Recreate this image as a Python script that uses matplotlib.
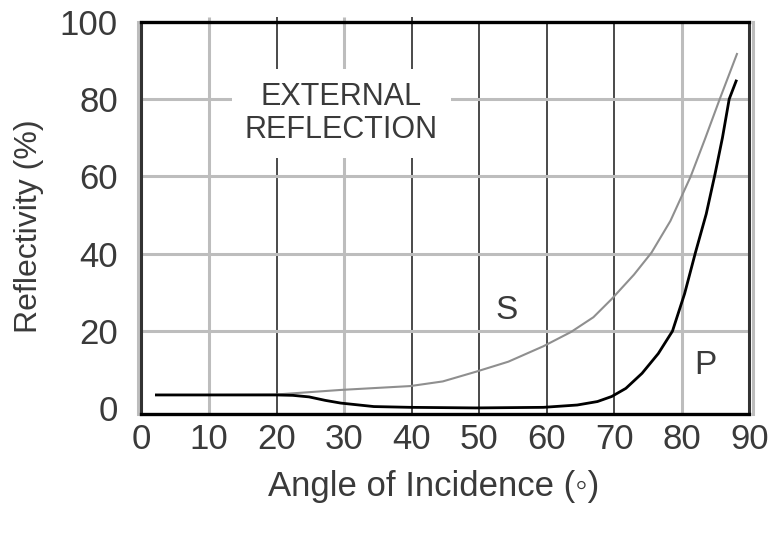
import matplotlib
matplotlib.use("Agg")
import matplotlib.pyplot as plt

# ---- data ----
s_angle = [2.0, 10.0, 19.8, 29.5, 39.8, 44.6, 49.5, 54.3, 59.5, 63.6, 66.9, 69.6,
           72.9, 75.5, 78.3, 81.3, 83.4, 85.6, 88.2]
s_refl = [3.5, 3.5, 3.6, 4.8, 5.8, 7.0, 9.5, 12.1, 16.1, 19.8, 23.6, 28.3,
          34.6, 40.3, 48.5, 60.0, 69.6, 80.0, 91.9]

p_angle = [2.0, 10.0, 20.0, 22.4, 24.8, 27.2, 29.5, 34.4, 39.8, 49.5, 59.5, 64.5,
           67.5, 69.6, 71.7, 74.1, 76.5, 78.6, 80.4, 82.0, 83.6, 84.9, 86.0, 87.0, 88.1]
p_refl = [3.5, 3.5, 3.5, 3.4, 3.0, 2.1, 1.4, 0.5, 0.3, 0.15, 0.3, 0.9,
          1.8, 3.1, 5.2, 9.1, 14.2, 20.0, 29.7, 40.3, 50.3, 60.6, 70.0, 80.0, 85.0]

x_ticks = [0, 10, 20, 30, 40, 50, 60, 70, 80, 90]
y_ticks = [0, 20, 40, 60, 80, 100]
x_grid_light = [10, 30, 80]
x_grid_dark = [20, 40, 50, 60, 70]
x_grid_tall = [10, 20, 30, 40]
y_grid = [20, 40, 60, 80]

plt.rcParams['font.family'] = ['Liberation Sans', 'DejaVu Sans']

fig = plt.figure(figsize=(7.69, 5.33), dpi=100)
ax = fig.add_axes([0.184, 0.2227, 0.7906, 0.7366])
ax.set_xlim(0, 90)
ax.set_ylim(-1.5, 100)

light = '#bdbdbd'
dark = '#4a4a4a'
for x in x_grid_light:
    ax.axvline(x, color=light, lw=2.2, zorder=1)
for x in x_grid_dark:
    ax.axvline(x, color=dark, lw=1.4, zorder=1)
for x in x_grid_tall:
    ax.vlines(x, 99, 101.3, color=(light if x in x_grid_light else dark),
              lw=(2.2 if x in x_grid_light else 1.4), clip_on=False, zorder=1)
for y in y_grid:
    ax.axhline(y, color=light, lw=2.2, zorder=1)
# gray edge lines just outside the frame
ax.axvline(-0.45, color=light, lw=2.2, clip_on=False, zorder=1)
ax.axvline(90.45, color=light, lw=2.2, clip_on=False, zorder=1)

txt_color = '#3a3a3a'
ax.text(29.6, 76.3, 'EXTERNAL\nREFLECTION', ha='center', va='center',
        fontsize=22, color=txt_color, linespacing=1.15, zorder=3,
        bbox=dict(facecolor='white', edgecolor='none', pad=9))

ax.plot(s_angle, s_refl, color='#8f8f8f', lw=1.5, zorder=4, solid_capstyle='butt')
ax.plot(p_angle, p_refl, color='black', lw=2.0, zorder=5, solid_capstyle='butt')

ax.text(54.0, 25.4, 'S', ha='center', va='center', fontsize=24, color=txt_color)
ax.text(83.4, 11.2, 'P', ha='center', va='center', fontsize=24, color=txt_color)

for side in ['top', 'bottom']:
    ax.spines[side].set_color('black')
    ax.spines[side].set_linewidth(2.4)
for side in ['left', 'right']:
    ax.spines[side].set_color('#333333')
    ax.spines[side].set_linewidth(2.2)
for sp in ax.spines.values():
    sp.set_zorder(6)

ax.set_xticks(x_ticks)
ax.set_yticks(y_ticks)
ax.tick_params(length=0, labelsize=25, labelcolor=txt_color)
ax.tick_params(axis='x', pad=6)
ax.tick_params(axis='y', pad=17)

ax.set_xlabel('Angle of Incidence (\u25e6)', fontsize=25, color=txt_color, va='center')
ax.xaxis.set_label_coords(0.48, -0.185)
ax.set_ylabel('Reflectivity (%)', fontsize=23, color=txt_color, va='center')
ax.yaxis.set_label_coords(-0.185, 0.48)

fig.savefig('out.png', dpi=100)
